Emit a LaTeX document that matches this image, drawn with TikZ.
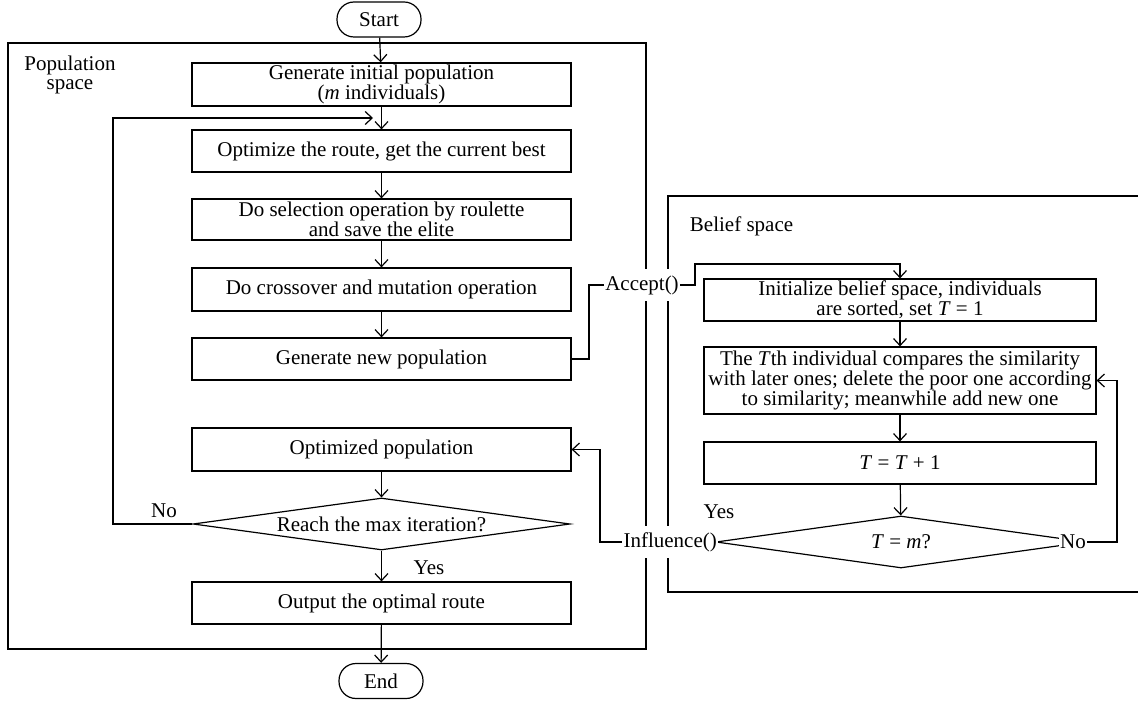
\documentclass[tikz,border=0pt]{standalone}
\usepackage{fontspec}
\setmainfont{Liberation Serif}
\usetikzlibrary{arrows.meta,shapes.geometric}
\begin{document}
\begin{tikzpicture}[x=1pt,y=-1pt,
  line width=1.2pt,
  every node/.style={font=\fontsize{21}{20}\selectfont},
  box/.style={draw, minimum width=379pt, align=center, inner sep=1pt},
  rbox/.style={draw, minimum width=392pt, align=center, inner sep=1pt},
  term/.style={draw, rounded corners=17pt, minimum width=84pt, minimum height=35pt, inner sep=1pt},
  dec/.style={draw, diamond, aspect=7, inner sep=0pt},
  lbl/.style={fill=white, inner xsep=1pt, inner ysep=6pt},
  arr/.style={-{Straight Barb[length=7pt,width=13pt]}},
]
\useasboundingbox[fill=white] (0,0) rectangle (1138,703);

% the two spaces
\draw (8,43) rectangle (646,649);
\draw (1138,196) -- (668,196) -- (668,592) -- (1138,592);
\node[align=center, font=\fontsize{21}{19.5}\selectfont, inner sep=0pt] (poplabel) at (70,75) {Population\\space};
\node[anchor=west] (beliefla) at (686,226) {Belief space};

% population space
\node[term] (start) at (379,19.5) {Start};
\node[box, minimum height=43pt] (gen) at (381.5,84.5) {Generate initial population\\(\textit{m} individuals)};
\node[box, minimum height=42pt] (opt) at (381.5,151) {Optimize the route, get the current best};
\node[box, minimum height=41pt] (sel) at (381.5,219.5) {Do selection operation by roulette\\and save the elite};
\node[box, minimum height=43pt] (cross) at (381.5,289.5) {Do crossover and mutation operation};
\node[box, minimum height=42pt] (newpop) at (381.5,359) {Generate new population};
\node[box, minimum height=43pt] (optpop) at (381.5,449.5) {Optimized population};
\node[dec, minimum width=377pt, minimum height=52pt] (d1) at (381.5,524) {Reach the max iteration?};
\node[box, minimum height=42pt] (out) at (381.5,603) {Output the optimal route};
\node[term] (end) at (381,681) {End};

% belief space
\node[rbox, minimum height=42pt] (init) at (900,300) {Initialize belief space, individuals\\are sorted, set \textit{T} = 1};
\node[rbox, minimum height=67pt] (tth) at (900,380.5) {The \textit{T}th individual compares the similarity\\with later ones; delete the poor one according\\to similarity; meanwhile add new one};
\node[rbox, minimum height=42pt] (tinc) at (900,463) {\textit{T} = \textit{T} + 1};
\node[dec, minimum width=370pt, minimum height=52pt] (d2) at (901,542) {\textit{T} = \textit{m}?};

% main flow
\draw[arr] (start) -- (gen);
\draw[arr] (gen) -- (opt);
\draw[arr] (opt) -- (sel);
\draw[arr] (sel) -- (cross);
\draw[arr] (cross) -- (newpop);
\draw[arr] (optpop) -- (d1);
\draw[arr] (d1) -- (out);
\draw[arr] (out) -- (end);
\node (yes1) at (429,568) {Yes};

% loop back when the max iteration is not reached
\coordinate (loopin) at (373,118);
\draw[arr] (d1.west) -| (113,300) |- (loopin);
\node (no1) at (164,511) {No};

% Accept()
\node[lbl] (acc) at (642,285) {Accept()};
\draw (newpop.east) -| (589,320) |- (acc.west);
\draw[arr] (acc.east) -| (695,264) -| (init.north);

% belief space flow
\draw[arr] (init) -- (tth);
\draw[arr] (tth) -- (tinc);
\draw[arr] (tinc) -- (d2);

% Influence()
\node[lbl, anchor=east] (infl) at ([xshift=3pt]d2.west) {Influence()};
\draw[arr] (infl.west) -| (600,500) |- (optpop.east);
\node (yes2) at (719,512) {Yes};

% repeat for the next individual
\node[lbl, inner ysep=3pt] (no2) at (1073,542) {No};
\draw[arr] (no2.east) -| (1117,460) |- (tth.east);
\end{tikzpicture}
\end{document}
